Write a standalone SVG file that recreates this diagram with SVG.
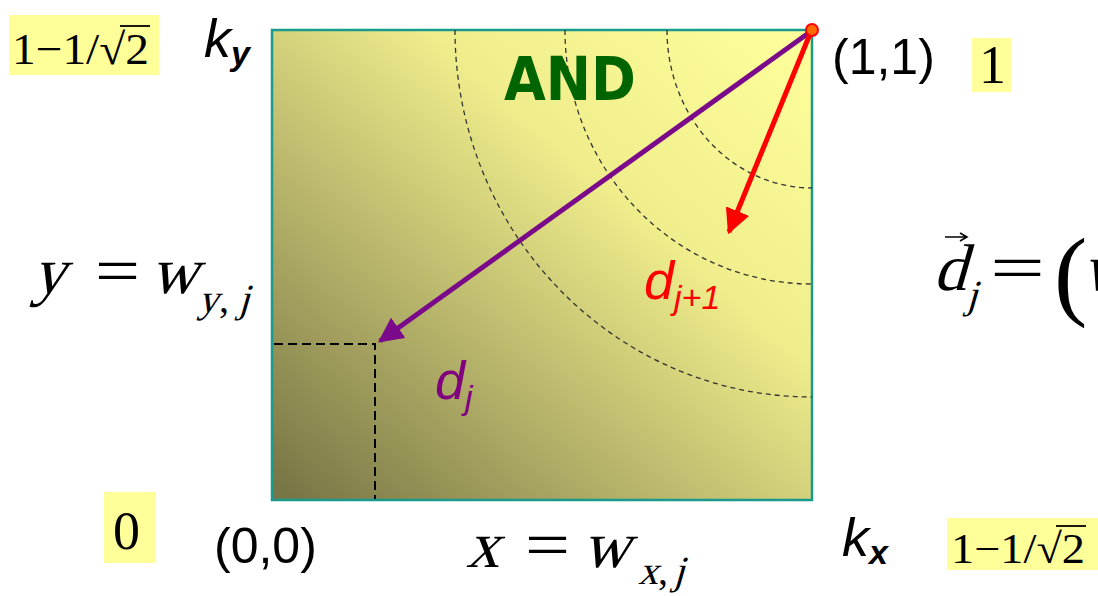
<svg xmlns="http://www.w3.org/2000/svg" width="1098" height="596" viewBox="0 0 1098 596">
<defs>
<linearGradient id="bg" x1="1" y1="0" x2="0" y2="1">
<stop offset="0" stop-color="#ffff9c"/>
<stop offset="0.35" stop-color="#f0ee8c"/>
<stop offset="1" stop-color="#757244"/>
</linearGradient>
<marker id="ahP" viewBox="0 0 10 10" refX="9" refY="5" markerWidth="5" markerHeight="5" orient="auto" markerUnits="strokeWidth"><path d="M0,0 L10,5 L0,10 z" fill="#7a0a8a"/></marker>
<marker id="ahR" viewBox="0 0 10 10" refX="9" refY="5" markerWidth="5" markerHeight="5" orient="auto" markerUnits="strokeWidth"><path d="M0,0 L10,5 L0,10 z" fill="#ff0000"/></marker>
<style>
.tm{font-family:"Liberation Serif","DejaVu Serif",serif;fill:#000}
.sn{font-family:"Liberation Sans",Arial,sans-serif;fill:#000}
.sni{font-family:"Liberation Sans",Arial,sans-serif;font-style:italic}
.hl{fill:#ffff99}
.arc{fill:none;stroke:#333;stroke-width:1.3;stroke-dasharray:5 4}
.dash{fill:none;stroke:#000;stroke-width:2;stroke-dasharray:9 5}
</style>
</defs>
<rect width="1098" height="596" fill="#fff"/>
<g id="plane">
<rect x="272" y="30" width="540" height="470" fill="url(#bg)" stroke="#199a8c" stroke-width="2.5"/>
</g>
<g id="contours">
<path class="arc" d="M455,30 A357,367 0 0 0 812,397"/>
<path class="arc" d="M565,30 A247,254 0 0 0 812,284"/>
<path class="arc" d="M667,30 A145,158 0 0 0 812,188"/>
</g>
<g id="connectors">
<path class="dash" d="M274,344 H375 V499"/>
<line x1="810" y1="32" x2="380" y2="341" stroke="#7a0a8a" stroke-width="5" marker-end="url(#ahP)"/>
<line x1="810" y1="34" x2="729" y2="232" stroke="#ff0000" stroke-width="5" marker-end="url(#ahR)"/>
<circle cx="812" cy="30" r="6" fill="#ff6a00" stroke="#ff0000" stroke-width="2"/>
</g>
<g id="label-and"><text x="504" y="100" font-family="'Comic Sans MS','DejaVu Sans',sans-serif" font-weight="bold" font-size="60" textLength="132" lengthAdjust="spacingAndGlyphs" fill="#006400">AND</text></g>
<g id="label-dj1"><text class="sni" x="644" y="299" font-size="54" fill="#ff0000">d<tspan font-size="34" dy="10">j+1</tspan></text></g>
<g id="label-dj"><text class="sni" x="435" y="399" font-size="54" fill="#800080">d<tspan font-size="34" dy="10">j</tspan></text></g>
<g id="tl-val">
<rect class="hl" x="9" y="15" width="150" height="60"/>
<text class="tm" x="12" y="64" font-size="44" textLength="137" lengthAdjust="spacingAndGlyphs">1−1/√2</text>
<line x1="120" y1="26" x2="150" y2="26" stroke="#000" stroke-width="1.8"/>
</g>
<g id="ky"><text class="sni" x="204" y="57" font-size="54" fill="#000">k<tspan font-size="34" font-weight="bold" dy="8">y</tspan></text></g>
<g id="p11"><text class="sn" x="832" y="74" font-size="50">(1,1)</text></g>
<g id="tr-val">
<rect class="hl" x="972" y="38" width="39" height="54"/>
<text class="tm" x="979" y="83" font-size="54">1</text>
</g>
<g id="yeq">
<text class="tm" transform="translate(32,293) skewX(-16)" font-size="66">y</text>
<text class="tm" x="95" y="293" font-size="66" textLength="45" lengthAdjust="spacingAndGlyphs">=</text>
<text class="tm" transform="translate(150,293) skewX(-16)" font-size="66">w</text>
<text class="tm" transform="translate(198,312) skewX(-16)" font-size="40">y</text>
<text class="tm" x="219" y="312" font-size="40">,</text>
<text class="tm" transform="translate(238,312) skewX(-16)" font-size="40">j</text>
</g>
<g id="deq">
<text class="tm" transform="translate(933,290) skewX(-16)" font-size="66">d</text>
<text class="tm" transform="translate(966,308) skewX(-16)" font-size="40">j</text>
<text class="tm" x="990" y="290" font-size="66" textLength="55" lengthAdjust="spacingAndGlyphs">=</text>
<text class="tm" x="1054" y="307" font-size="100">(</text>
<text class="tm" transform="translate(1082,290) skewX(-16)" font-size="66">w</text>
<path d="M945,237 H966 M960,233 L967,237 L960,241" fill="none" stroke="#000" stroke-width="1.6"/>
</g>
<g id="bl-val">
<rect class="hl" x="104" y="492" width="52" height="71"/>
<text class="tm" x="113" y="549" font-size="54">0</text>
</g>
<g id="p00"><text class="sn" x="214" y="563" font-size="50">(0,0)</text></g>
<g id="xeq">
<text class="tm" transform="translate(466,567) skewX(-16)" font-size="66">x</text>
<text class="tm" x="525" y="567" font-size="66" textLength="45" lengthAdjust="spacingAndGlyphs">=</text>
<text class="tm" transform="translate(582,567) skewX(-16)" font-size="66">w</text>
<text class="tm" transform="translate(638,584) skewX(-16)" font-size="40">x</text>
<text class="tm" x="658" y="584" font-size="40">,</text>
<text class="tm" transform="translate(673,584) skewX(-16)" font-size="40">j</text>
</g>
<g id="kx"><text class="sni" x="842" y="556" font-size="54" fill="#000">k<tspan font-size="34" font-weight="bold" dy="8">x</tspan></text></g>
<g id="br-val">
<rect class="hl" x="947" y="518" width="151" height="52"/>
<text class="tm" x="951" y="563" font-size="42" textLength="134" lengthAdjust="spacingAndGlyphs">1−1/√2</text>
<line x1="1056" y1="526" x2="1086" y2="526" stroke="#000" stroke-width="1.8"/>
</g>
</svg>
